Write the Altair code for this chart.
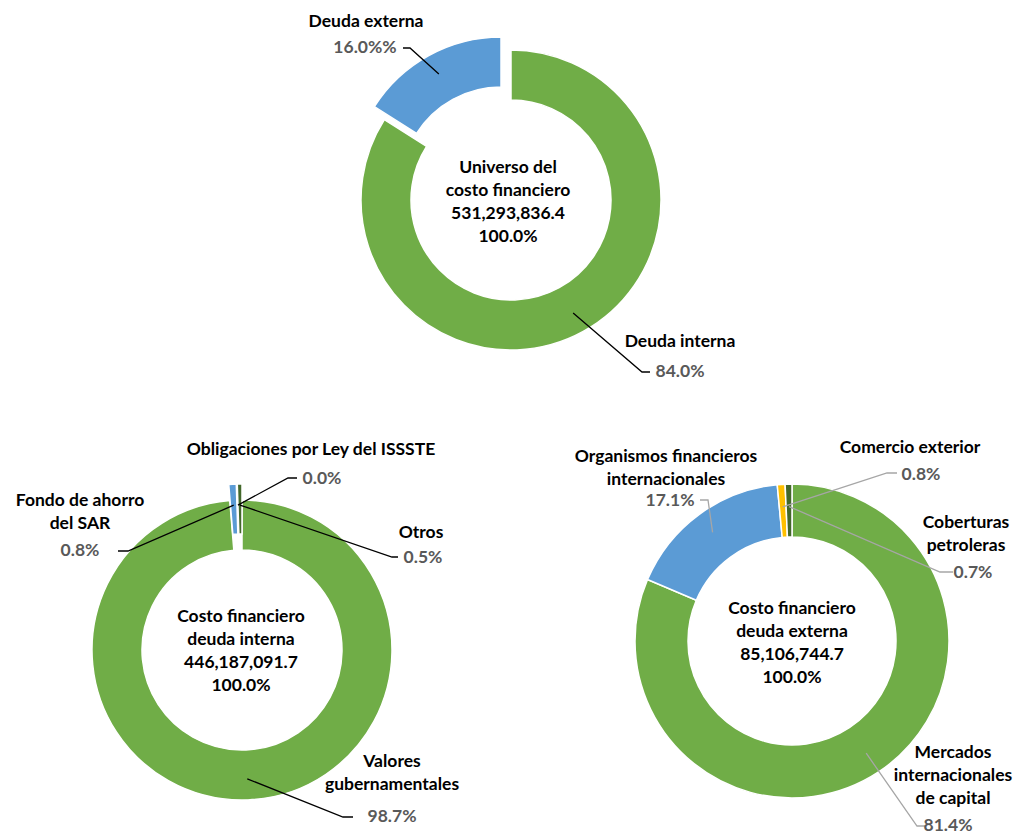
import math
import altair as alt
import pandas as pd

# ---------------- data ----------------
top_names = ["Deuda interna", "Deuda externa"]
top_values = [84.0, 16.0]
top_center = ["Universo del", "costo financiero", "531,293,836.4", "100.0%"]

bl_names = ["Valores gubernamentales", "Fondo de ahorro del SAR",
            "Obligaciones por Ley del ISSSTE", "Otros"]
bl_values = [98.7, 0.8, 0.0, 0.5]
bl_center = ["Costo financiero", "deuda interna", "446,187,091.7", "100.0%"]

br_names = ["Mercados internacionales de capital",
            "Organismos financieros internacionales",
            "Comercio exterior", "Coberturas petroleras"]
br_values = [81.4, 17.1, 0.8, 0.7]
br_center = ["Costo financiero", "deuda externa", "85,106,744.7", "100.0%"]

# label lines as printed in the chart
top_label_lines = [["Deuda interna"], ["Deuda externa"]]
top_pct_text = ["84.0%", "16.0%%"]
bl_label_lines = [["Valores", "gubernamentales"], ["Fondo de ahorro", "del SAR"],
                  ["Obligaciones por Ley del ISSSTE"], ["Otros"]]
br_label_lines = [["Mercados", "internacionales", "de capital"],
                  ["Organismos financieros", "internacionales"],
                  ["Comercio exterior"], ["Coberturas", "petroleras"]]

# ---------------- styles / layout ----------------
OFF = 8
GREEN = "#70AD47"
BLUE = "#5B9BD5"
GOLD = "#FFC000"
DKGREEN = "#43682B"
GRAY_TXT = "#595959"
BLACK = "#000000"
LH = 23

donuts = [
    dict(names=top_names, values=top_values, center=(511, 200), r=(100, 150),
         colors=[GREEN, BLUE], explode=[(0, 0), (-10, -13)],
         lines=top_label_lines, pct=top_pct_text,
         label_pos=[(680, 342), (366, 22)], pct_pos=[(680, 372), (365, 48)],
         leader=[((642, 372), (650, 372)), ((410, 48), (403, 48))],
         leader_color=BLACK, center_text=top_center, center_xy=(508, 168)),
    dict(names=bl_names, values=bl_values, center=(242, 648), r=(100, 150),
         colors=[GREEN, BLUE, BLUE, DKGREEN],
         explode=[(0, 2), (-1, -14), (0, -14), (0, -14)],
         lines=bl_label_lines, pct=[f"{v:.1f}%" for v in bl_values],
         label_pos=[(392, 762), (80, 501), (311, 450), (421, 533)],
         pct_pos=[(392, 817), (80, 551), (322, 479), (423, 558)],
         leader=[((343, 817), (353, 817)), ((128, 551), (118, 551)),
                 ((288, 478), (297, 478)), ((392, 557), (398, 557))],
         leader_color=BLACK, center_text=bl_center, center_xy=(241, 617)),
    dict(names=br_names, values=br_values, center=(792, 641), r=(104, 157),
         colors=[GREEN, BLUE, GOLD, DKGREEN], explode=[(0, 0)] * 4,
         lines=br_label_lines, pct=[f"{v:.1f}%" for v in br_values],
         label_pos=[(953, 753), (666, 457), (910, 448), (966, 523)],
         pct_pos=[(948, 826), (670, 501), (921, 475), (973, 573)],
         leader=[((917, 826), (925, 826)), ((708, 500), (700, 500)),
                 ((887, 473), (897, 473)), ((940, 572), (953, 572))],
         leader_color="#A6A6A6", center_text=br_center, center_xy=(792, 609)),
]

theta_scale = alt.Scale(domain=[0, 100], range=[0, 2 * math.pi])

layers = []
text_rows = []
line_rows = []
lid = 0
for d in donuts:
    cx, cy = d["center"]
    rin, rout = d["r"]
    rows = []
    cum = 0.0
    for i, (n, v) in enumerate(zip(d["names"], d["values"])):
        t0, t1 = cum, cum + v
        cum = t1
        ex, ey = d["explode"][i]
        rows.append(dict(name=n, t0=t0, t1=t1, color=d["colors"][i],
                         cx=cx + ex - OFF, cy=cy + ey - OFF))
        # leader line from slice mid-angle to label
        mid = (t0 + t1) / 2 / 100 * 2 * math.pi
        rr = (rin + rout) / 2 + 4
        ax = cx + ex + rr * math.sin(mid)
        ay = cy + ey - rr * math.cos(mid)
        (elx, ely), (enx, eny) = d["leader"][i]
        for s, (px, py) in enumerate([(ax, ay), (elx, ely), (enx, eny)]):
            line_rows.append(dict(id=lid, seq=s, x=px - OFF, y=py - OFF,
                                  color=d["leader_color"]))
        lid += 1
        # labels
        lx, ly = d["label_pos"][i]
        for k, t in enumerate(d["lines"][i]):
            text_rows.append(dict(x=lx - OFF, y=ly + k * LH - OFF, text=t, color=BLACK))
        px_, py_ = d["pct_pos"][i]
        text_rows.append(dict(x=px_ - OFF, y=py_ - OFF, text=d["pct"][i], color=GRAY_TXT))
    # center text
    tx, ty = d["center_xy"]
    for k, t in enumerate(d["center_text"]):
        text_rows.append(dict(x=tx - OFF, y=ty + k * LH - OFF, text=t, color=BLACK))
    df = pd.DataFrame(rows)
    layers.append(
        alt.Chart(df).mark_arc(innerRadius=rin, outerRadius=rout,
                               stroke="white", strokeWidth=1.5).encode(
            theta=alt.Theta("t0:Q", scale=theta_scale),
            theta2="t1:Q",
            x=alt.X("cx:Q", scale=None),
            y=alt.Y("cy:Q", scale=None),
            color=alt.Color("color:N", scale=None),
        )
    )

lines = alt.Chart(pd.DataFrame(line_rows)).mark_line(strokeWidth=1.3).encode(
    x=alt.X("x:Q", scale=None),
    y=alt.Y("y:Q", scale=None),
    detail="id:N",
    order="seq:Q",
    color=alt.Color("color:N", scale=None),
)

texts = alt.Chart(pd.DataFrame(text_rows)).mark_text(
    font="Lato", fontWeight="bold", fontSize=17.5, align="center", baseline="middle"
).encode(
    x=alt.X("x:Q", scale=None),
    y=alt.Y("y:Q", scale=None),
    text="text:N",
    color=alt.Color("color:N", scale=None),
)

chart = alt.layer(*layers, lines, texts).properties(
    width=1005, height=828, padding=0, autosize="none"
).configure_view(stroke=None)

chart.save("out.html", embed_options={"renderer": "svg", "actions": False})
